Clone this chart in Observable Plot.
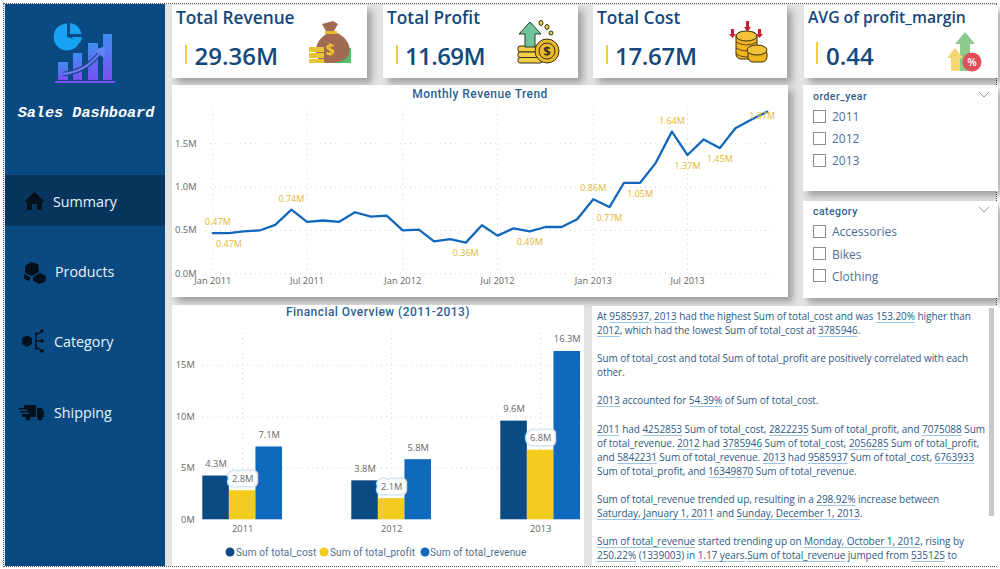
<!DOCTYPE html>
<html lang="en">
<head>
<meta charset="utf-8">
<title>Sales Dashboard</title>
<script src="https://cdn.jsdelivr.net/npm/d3@7"></script>
<script src="https://cdn.jsdelivr.net/npm/@observablehq/plot@0.6"></script>
<style>
html,body{margin:0;padding:0;background:#fff;width:1000px;height:569px;overflow:hidden;font-family:"Open Sans","Noto Sans",sans-serif}
#stage{position:absolute;left:4px;top:4px;width:992px;height:562px;background:#e4e4e4;outline:1px dotted #555}
.abs{position:absolute}
.card{position:absolute;background:#fff;box-shadow:5px 5px 7px rgba(0,0,0,.3)}
.kt{position:absolute;color:#12487c;font-weight:600;white-space:nowrap}
.kv{position:absolute;color:#12487c;font-weight:600;white-space:nowrap}
.kb{position:absolute;width:2px;background:#f2cd3c}
.din{font-family:Roboto,sans-serif;font-weight:500;letter-spacing:.45px;color:#2f5f8f;white-space:nowrap}
.nav{position:absolute;color:#eaf2fa;font-size:14.3px;font-weight:500;white-space:nowrap;transform:translateY(-50%)}
.chk{position:absolute;width:11px;height:11px;border:1px solid #8c8c8c;background:#fff}
.sl{position:absolute;color:#4a7199;font-size:12px;white-space:nowrap;transform:translateY(-50%)}
.lg{position:absolute;font-size:10px;color:#4f6f90;font-family:Roboto,sans-serif;letter-spacing:.13px;white-space:nowrap;transform:translateY(-50%)}
.ld{position:absolute;width:9px;height:9px;border-radius:50%;transform:translate(-50%,-50%)}
#insight{position:absolute;left:597px;top:309px;width:390px;height:257px;overflow:hidden;font-size:10px;letter-spacing:-.055px;line-height:14.08px;color:#2d5a86;white-space:nowrap}
#insight u{text-decoration-color:#9cc6ea;text-underline-offset:2px;text-decoration-thickness:1px}
svg.plot{background:transparent!important}
</style>
</head>
<body>
<div id="stage"></div>
<div class="abs" style="left:5px;top:4px;width:160px;height:562px;background:#0a4a82"></div>
<div class="abs" style="left:5px;top:175px;width:160px;height:51px;background:#07355e"></div>

<svg class="abs" style="left:50px;top:20px" width="70" height="66" viewBox="50 20 70 66">
  <defs><linearGradient id="g" x1="0" y1="0" x2="0" y2="1"><stop offset="0" stop-color="#3d8ff2"/><stop offset="1" stop-color="#7c4ff0"/></linearGradient></defs>
  <path d="M67 37 L67 23.5 A13.5 13.5 0 1 0 80 41 Z" fill="#18a2f4"/>
  <path d="M70 34 L70 23 A13 13 0 0 1 81.5 34 Z" fill="#18a2f4"/>
  <path d="M71 37 L82 37 A13 13 0 0 1 80 43 Z" fill="#18a2f4"/>
  <rect x="58" y="62" width="10" height="18" fill="url(#g)"/>
  <rect x="73" y="53" width="9" height="27" fill="url(#g)"/>
  <rect x="88" y="43" width="10" height="37" fill="url(#g)"/>
  <rect x="103" y="34" width="9" height="46" fill="url(#g)"/>
  <rect x="55" y="81" width="60" height="2" fill="#7c4ff0"/>
  <path d="M63 74 Q85 72 100 53" fill="none" stroke="#0a4a82" stroke-width="4.5"/>
  <path d="M63 74 Q85 72 100 53" fill="none" stroke="#6f74ee" stroke-width="2.5"/>
  <path d="M94 50 L106 46 L104 58 Z" fill="#5f86f0"/>
</svg>
<div class="abs" style="left:5px;top:104px;width:162px;text-align:center;color:#fff;font:italic bold 15.2px 'Liberation Mono',monospace;white-space:nowrap">Sales Dashboard</div>

<div class="nav" style="left:53px;top:201px">Summary</div>
<div class="nav" style="left:55px;top:271px">Products</div>
<div class="nav" style="left:54px;top:341px">Category</div>
<div class="nav" style="left:54px;top:412px">Shipping</div>
<svg class="abs" style="left:0;top:180px" width="60" height="250" viewBox="0 180 60 250" fill="#04101c">
  <path d="M34.500 192 L24 202 L27 202 L27 210 L32 210 L32 204 L37 204 L37 210 L42 210 L42 202 L45 202 Z"/>
  <path d="M31 262 L38 264 L39 272 L32 276 L25 273 L25 266 Z"/>
  <path d="M24 274 L30 277 L30 281 L24 279 Z"/>
  <path d="M33 277 L40 273 L46 276 L45 282 L39 284 L33 281 Z"/>
  <path d="M22 338 L27 335.500 L32 338 L32 344 L27 347 L22 344 Z"/>
  <path d="M36 332 L36 350 M36 335 L42 331 M36 341 L42 341 M36 347 L42 351" stroke="#04101c" stroke-width="1.500" fill="none"/>
  <circle cx="42" cy="331" r="1.800"/><circle cx="42" cy="341" r="1.800"/><circle cx="42" cy="351" r="1.800"/>
  <path d="M24 405 L36 405 L36 417 L22 417 L22 414 L29 414 L29 412.500 L20 412.500 L20 411 L27 411 L27 409.500 L19 409.500 L19 408 L24 408 Z M37 408 L42 408 L44 412 L44 417 L37 417 Z"/>
  <circle cx="28" cy="418" r="2.500"/><circle cx="40" cy="418" r="2.500"/>
</svg>

<div class="card" style="left:172px;top:5px;width:195px;height:73px"></div>
<div class="card" style="left:383px;top:5px;width:195px;height:73px"></div>
<div class="card" style="left:593px;top:5px;width:194px;height:73px"></div>
<div class="card" style="left:804px;top:5px;width:194px;height:73px"></div>
<div class="card" style="left:172px;top:85px;width:616px;height:212px"></div>
<div class="card" style="left:803px;top:85px;width:195px;height:106px"></div>
<div class="card" style="left:803px;top:201px;width:195px;height:97px"></div>
<div class="card" style="left:172px;top:305px;width:412px;height:261px;box-shadow:none"></div>
<div class="card" style="left:592px;top:306px;width:406px;height:260px;box-shadow:none"></div>

<div class="kt" style="left:176px;top:6px;font-size:17.3px">Total Revenue</div>
<div class="kb" style="left:185px;top:45px;height:19px"></div>
<div class="kv" style="left:194.5px;top:39px;font-size:24px">29.36M</div>
<div class="kt" style="left:387px;top:6px;font-size:17.3px">Total Profit</div>
<div class="kb" style="left:396px;top:45px;height:19px"></div>
<div class="kv" style="left:405px;top:39px;font-size:24px;letter-spacing:-.6px">11.69M</div>
<div class="kt" style="left:597px;top:6px;font-size:17.3px">Total Cost</div>
<div class="kb" style="left:606px;top:45px;height:19px"></div>
<div class="kv" style="left:615px;top:39px;font-size:24px;letter-spacing:-.3px">17.67M</div>
<div class="kt" style="left:808px;top:5.5px;font-size:15.7px">AVG of profit_margin</div>
<div class="kb" style="left:816px;top:42px;height:22px"></div>
<div class="kv" style="left:826px;top:39px;font-size:24px">0.44</div>

<svg class="abs" style="left:305px;top:18px" width="50" height="48" viewBox="305 18 50 48">
  <rect x="325" y="48" width="26" height="15" fill="#4fc36b"/>
  <path d="M322 24 L333 21 L338 24 L334 31 L337 33 C348 38 351 47 349 54 C347 61 338 63 330 63 C322 63 317 60 316 53 C315 45 320 37 328 33 L326 31 Z" fill="#a26a52"/>
  <rect x="325" y="31" width="12" height="3" fill="#e6bd2d"/>
  <text x="330" y="55" font-size="16" font-weight="700" text-anchor="middle" fill="#eec32f">$</text>
  <rect x="309" y="47" width="15" height="5" fill="#e6c53a"/><rect x="309" y="53" width="15" height="5" fill="#e6c53a"/><rect x="309" y="59" width="15" height="4" fill="#e6c53a"/>
</svg>
<svg class="abs" style="left:514px;top:18px" width="50" height="48" viewBox="514 18 50 48">
  <rect x="518" y="46" width="24" height="6" rx="2" fill="#f0d04a" stroke="#3a2f10"/><rect x="518" y="52" width="24" height="5.500" rx="2" fill="#f0d04a" stroke="#3a2f10"/><rect x="518" y="57.500" width="24" height="5.500" rx="2" fill="#f0d04a" stroke="#3a2f10"/>
  <path d="M530 22 L541 34 L535 34 L535 47 L525 47 L525 34 L519 34 Z" fill="#6fc49a" stroke="#2a3a2a"/>
  <circle cx="547" cy="51" r="12" fill="#e9b92b" stroke="#3a2f10"/>
  <circle cx="547" cy="51" r="8" fill="none" stroke="#3a2f10"/>
  <text x="547" y="56" font-size="13" font-weight="700" text-anchor="middle" fill="#3a2f10">$</text>
  <ellipse cx="541" cy="23" rx="2" ry="2.500" fill="#f0d04a" stroke="#3a2f10"/><ellipse cx="547" cy="27" rx="2" ry="2.500" fill="#f0d04a" stroke="#3a2f10"/><ellipse cx="551" cy="33" rx="2" ry="2" fill="#f0d04a" stroke="#3a2f10"/>
</svg>
<svg class="abs" style="left:725px;top:18px" width="46" height="46" viewBox="725 18 46 46">
  <path d="M746 21 L749 21 L749 27 L751 27 L747.500 32 L744 27 L746 27 Z M731 29 L734 29 L734 34 L736 34 L732.500 38 L729 34 L731 34 Z M758 29 L761 29 L761 34 L763 34 L759.500 38 L756 34 L758 34 Z" fill="#c8202f"/>
  <rect x="736" y="32" width="21" height="27" rx="5" fill="#f0b41e" stroke="#3a2f10"/>
  <ellipse cx="746.500" cy="36" rx="10.500" ry="5" fill="#f2c33a" stroke="#3a2f10"/>
  <path d="M736 42 Q746 48 757 42 M736 48 Q746 54 757 48 M736 54 Q746 60 757 54" fill="none" stroke="#3a2f10" stroke-width=".8"/>
  <rect x="748" y="49" width="19" height="13" rx="5" fill="#f0b41e" stroke="#3a2f10"/>
  <ellipse cx="757" cy="50" rx="10" ry="5" fill="#f2c33a" stroke="#3a2f10"/>
</svg>
<svg class="abs" style="left:945px;top:30px" width="38" height="44" viewBox="945 30 38 44">
  <path d="M965 32 L975 44 L970 44 L970 71 L960 71 L960 44 L955 44 Z" fill="#8dc98b"/>
  <path d="M955 48 L963 58 L960 58 L960 71 L951 71 L951 58 L947 58 Z" fill="#f3d772"/>
  <circle cx="972" cy="62" r="9.500" fill="#e0505a"/>
  <text x="972" y="66" font-size="11" font-weight="600" text-anchor="middle" fill="#fff">%</text>
</svg>

<div class="din abs" style="left:172px;top:87px;width:616px;text-align:center;font-size:12px;line-height:15px">Monthly Revenue Trend</div>
<div id="lineChart" class="abs" style="left:172px;top:85px"></div>

<div class="din abs" style="left:172px;top:305px;width:412px;text-align:center;font-size:12px;line-height:15px">Financial Overview (2011-2013)</div>
<div id="barChart" class="abs" style="left:172px;top:305px"></div>
<div class="ld" style="left:230px;top:551.500px;background:#0b4a82"></div><div class="lg" style="left:236px;top:551.500px">Sum of total_cost</div>
<div class="ld" style="left:324px;top:551.500px;background:#f2cd1f"></div><div class="lg" style="left:330px;top:551.500px">Sum of total_profit</div>
<div class="ld" style="left:425px;top:551.500px;background:#0f69bd"></div><div class="lg" style="left:430px;top:551.500px">Sum of total_revenue</div>

<div class="din abs" style="left:813px;top:90px;font-size:10.5px;line-height:13px">order_year</div>
<svg class="abs" style="left:978px;top:91px" width="12" height="8"><path d="M1 1 L6 6 L11 1" fill="none" stroke="#999"/></svg>
<div class="chk" style="left:813px;top:110px"></div><div class="sl" style="left:832px;top:116px">2011</div>
<div class="chk" style="left:813px;top:132px"></div><div class="sl" style="left:832px;top:138px">2012</div>
<div class="chk" style="left:813px;top:154px"></div><div class="sl" style="left:832px;top:160px">2013</div>
<div class="din abs" style="left:813px;top:205px;font-size:10.5px;line-height:13px">category</div>
<svg class="abs" style="left:978px;top:206px" width="12" height="8"><path d="M1 1 L6 6 L11 1" fill="none" stroke="#999"/></svg>
<div class="chk" style="left:813px;top:225px"></div><div class="sl" style="left:832px;top:231px">Accessories</div>
<div class="chk" style="left:813px;top:247px"></div><div class="sl" style="left:832px;top:254px">Bikes</div>
<div class="chk" style="left:813px;top:269px"></div><div class="sl" style="left:832px;top:276px">Clothing</div>

<div id="insight">At <u>9585937</u>, <u>2013</u> had the highest Sum of total_cost and was <u>153.20%</u> higher than<br>
<u>2012</u>, which had the lowest Sum of total_cost at <u>3785946</u>.<br><br>
Sum of total_cost and total Sum of total_profit are positively correlated with each<br>
other.<br><br>
<u>2013</u> accounted for <u>54.39%</u> of Sum of total_cost.<br><br>
<u>2011</u> had <u>4252853</u> Sum of total_cost, <u>2822235</u> Sum of total_profit, and <u>7075088</u> Sum<br>
of total_revenue. <u>2012</u> had <u>3785946</u> Sum of total_cost, <u>2056285</u> Sum of total_profit,<br>
and <u>5842231</u> Sum of total_revenue. <u>2013</u> had <u>9585937</u> Sum of total_cost, <u>6763933</u><br>
Sum of total_profit, and <u>16349870</u> Sum of total_revenue.<br><br>
Sum of total_revenue trended up, resulting in a <u>298.92%</u> increase between<br>
<u>Saturday, January 1, 2011</u> and <u>Sunday, December 1, 2013</u>.<br><br>
<u>Sum of total_revenue</u> started trending up on <u>Monday, October 1, 2012</u>, rising by<br>
<u>250.22%</u> (<u>1339003</u>) in <u>1.17 years</u>.<u>Sum of total_revenue</u> jumped from <u>535125</u> to</div>
<div class="abs" style="left:989px;top:308px;width:5px;height:208px;background:#c9c9c9"></div>

<script>
// Monthly Revenue Trend (values in millions)
const months = ["2011-01","2011-02","2011-03","2011-04","2011-05","2011-06","2011-07","2011-08","2011-09","2011-10","2011-11","2011-12",
  "2012-01","2012-02","2012-03","2012-04","2012-05","2012-06","2012-07","2012-08","2012-09","2012-10","2012-11","2012-12",
  "2013-01","2013-02","2013-03","2013-04","2013-05","2013-06","2013-07","2013-08","2013-09","2013-10","2013-11","2013-12"];
const revenue = [0.47,0.47,0.49,0.50,0.565,0.74,0.60,0.615,0.60,0.71,0.66,0.67,
  0.50,0.51,0.375,0.40,0.36,0.56,0.44,0.525,0.49,0.54,0.54,0.63,
  0.86,0.77,1.05,1.05,1.28,1.64,1.37,1.55,1.45,1.68,1.78,1.87];
const labelsAbove = ["2011-06","2013-01","2013-06"];
const labelsBelow = ["2011-02","2012-05","2012-09","2013-02","2013-04","2013-07","2013-09"];
const labelFirst = ["2011-01"];
const labelLast = ["2013-12"];
const revenueTicks = [0,0.5,1,1.5];
const dateTicks = ["2011-01","2011-07","2012-01","2012-07","2013-01","2013-07"];

// Financial Overview (values in millions)
const years = ["2011","2012","2013"];
const seriesNames = ["Sum of total_cost","Sum of total_profit","Sum of total_revenue"];
const totalCost = [4.252853,3.785946,9.585937];
const totalProfit = [2.822235,2.056285,6.763933];
const totalRevenue = [7.075088,5.842231,16.34987];
const overviewTicks = [0,5,10,15];

const parseMonth = d3.utcParse("%Y-%m");
const fmt2 = v => v.toFixed(2) + "M";
const trend = months.map((m,i) => ({key:m, date:parseMonth(m), value:revenue[i]}));
const pick = keys => trend.filter(d => keys.includes(d.key));
const gridStyle = {stroke:"#d4d4d4", strokeOpacity:1, strokeDasharray:"1 4"};
const fontFamily = "'Open Sans','Noto Sans',sans-serif";
const gold = "#e3b62e";
const labelBase = {x:"date", y:"value", text:d=>fmt2(d.value), fill:gold, fontSize:9};

const lineChart = Plot.plot({
  width:616, height:212,
  marginLeft:33, marginRight:13, marginTop:23.6, marginBottom:23.7,
  style:{fontFamily, fontSize:"9.3px", color:"#666", background:"transparent"},
  x:{type:"utc", domain:[new Date(Date.UTC(2010,11,18)), new Date(Date.UTC(2013,11,17))]},
  y:{domain:[0,1.9]},
  marks:[
    Plot.gridY(revenueTicks, gridStyle),
    Plot.gridX(dateTicks.map(parseMonth), gridStyle),
    Plot.axisY(revenueTicks, {tickSize:0, tickPadding:9, label:null, tickFormat:d=>d.toFixed(1)+"M", fill:"#666"}),
    Plot.axisX(dateTicks.map(parseMonth), {tickSize:0, tickPadding:4, label:null, tickFormat:d3.utcFormat("%b %Y"), fill:"#666"}),
    Plot.line(trend, {x:"date", y:"value", stroke:"#1167bd", strokeWidth:2.3}),
    Plot.text(pick(labelsAbove), {...labelBase, dy:-11}),
    Plot.text(pick(labelsBelow), {...labelBase, dy:11}),
    Plot.text(pick(labelFirst), {...labelBase, dx:5, dy:-11}),
    Plot.text(pick(labelLast), {...labelBase, dx:-5, dy:4})
  ]
});
document.getElementById("lineChart").append(lineChart);

const overview = years.flatMap((year,i) => [
  {year, series:seriesNames[0], value:totalCost[i]},
  {year, series:seriesNames[1], value:totalProfit[i]},
  {year, series:seriesNames[2], value:totalRevenue[i]}
]);
const profitRows = overview.filter(d => d.series === seriesNames[1]);
const otherRows = overview.filter(d => d.series !== seriesNames[1]);
const barLabel = {fx:"year", x:"series", y:"value", text:d=>d.value.toFixed(1)+"M", fontSize:9.3, dy:-12};

const barChart = Plot.plot({
  width:412, height:261,
  marginLeft:30.3, marginRight:4, marginTop:28, marginBottom:46.7,
  style:{fontFamily, fontSize:"9.3px", color:"#666", background:"transparent"},
  fx:{domain:years, paddingInner:0.465, paddingOuter:0, label:null, axis:null, round:false},
  x:{domain:seriesNames, padding:0, axis:null, round:false},
  y:{domain:[0,18.1]},
  color:{domain:seriesNames, range:["#0b4a82","#f2cd1f","#0f69bd"]},
  marks:[
    Plot.ruleY(overviewTicks.slice(1), {...gridStyle, insetRight:-70}),
    Plot.gridFx({...gridStyle}),
    Plot.axisY(overviewTicks, {tickSize:0, tickPadding:8, label:null, tickFormat:d=>d+"M", fill:"#666"}),
    Plot.axisFx({anchor:"bottom", tickSize:0, tickPadding:6, label:null, fill:"#666"}),
    Plot.barY(overview, {fx:"year", x:"series", y:"value", fill:"series"}),
    Plot.text(otherRows, {...barLabel, fill:"#666"}),
    Plot.text(profitRows, {...barLabel, fill:"none", stroke:"#d6e6f5", strokeWidth:11, strokeLinejoin:"round"}),
    Plot.text(profitRows, {...barLabel, fill:"#666", stroke:"#fff", strokeWidth:8, strokeLinejoin:"round", paintOrder:"stroke"})
  ]
});
document.getElementById("barChart").append(barChart);
</script>
</body>
</html>
